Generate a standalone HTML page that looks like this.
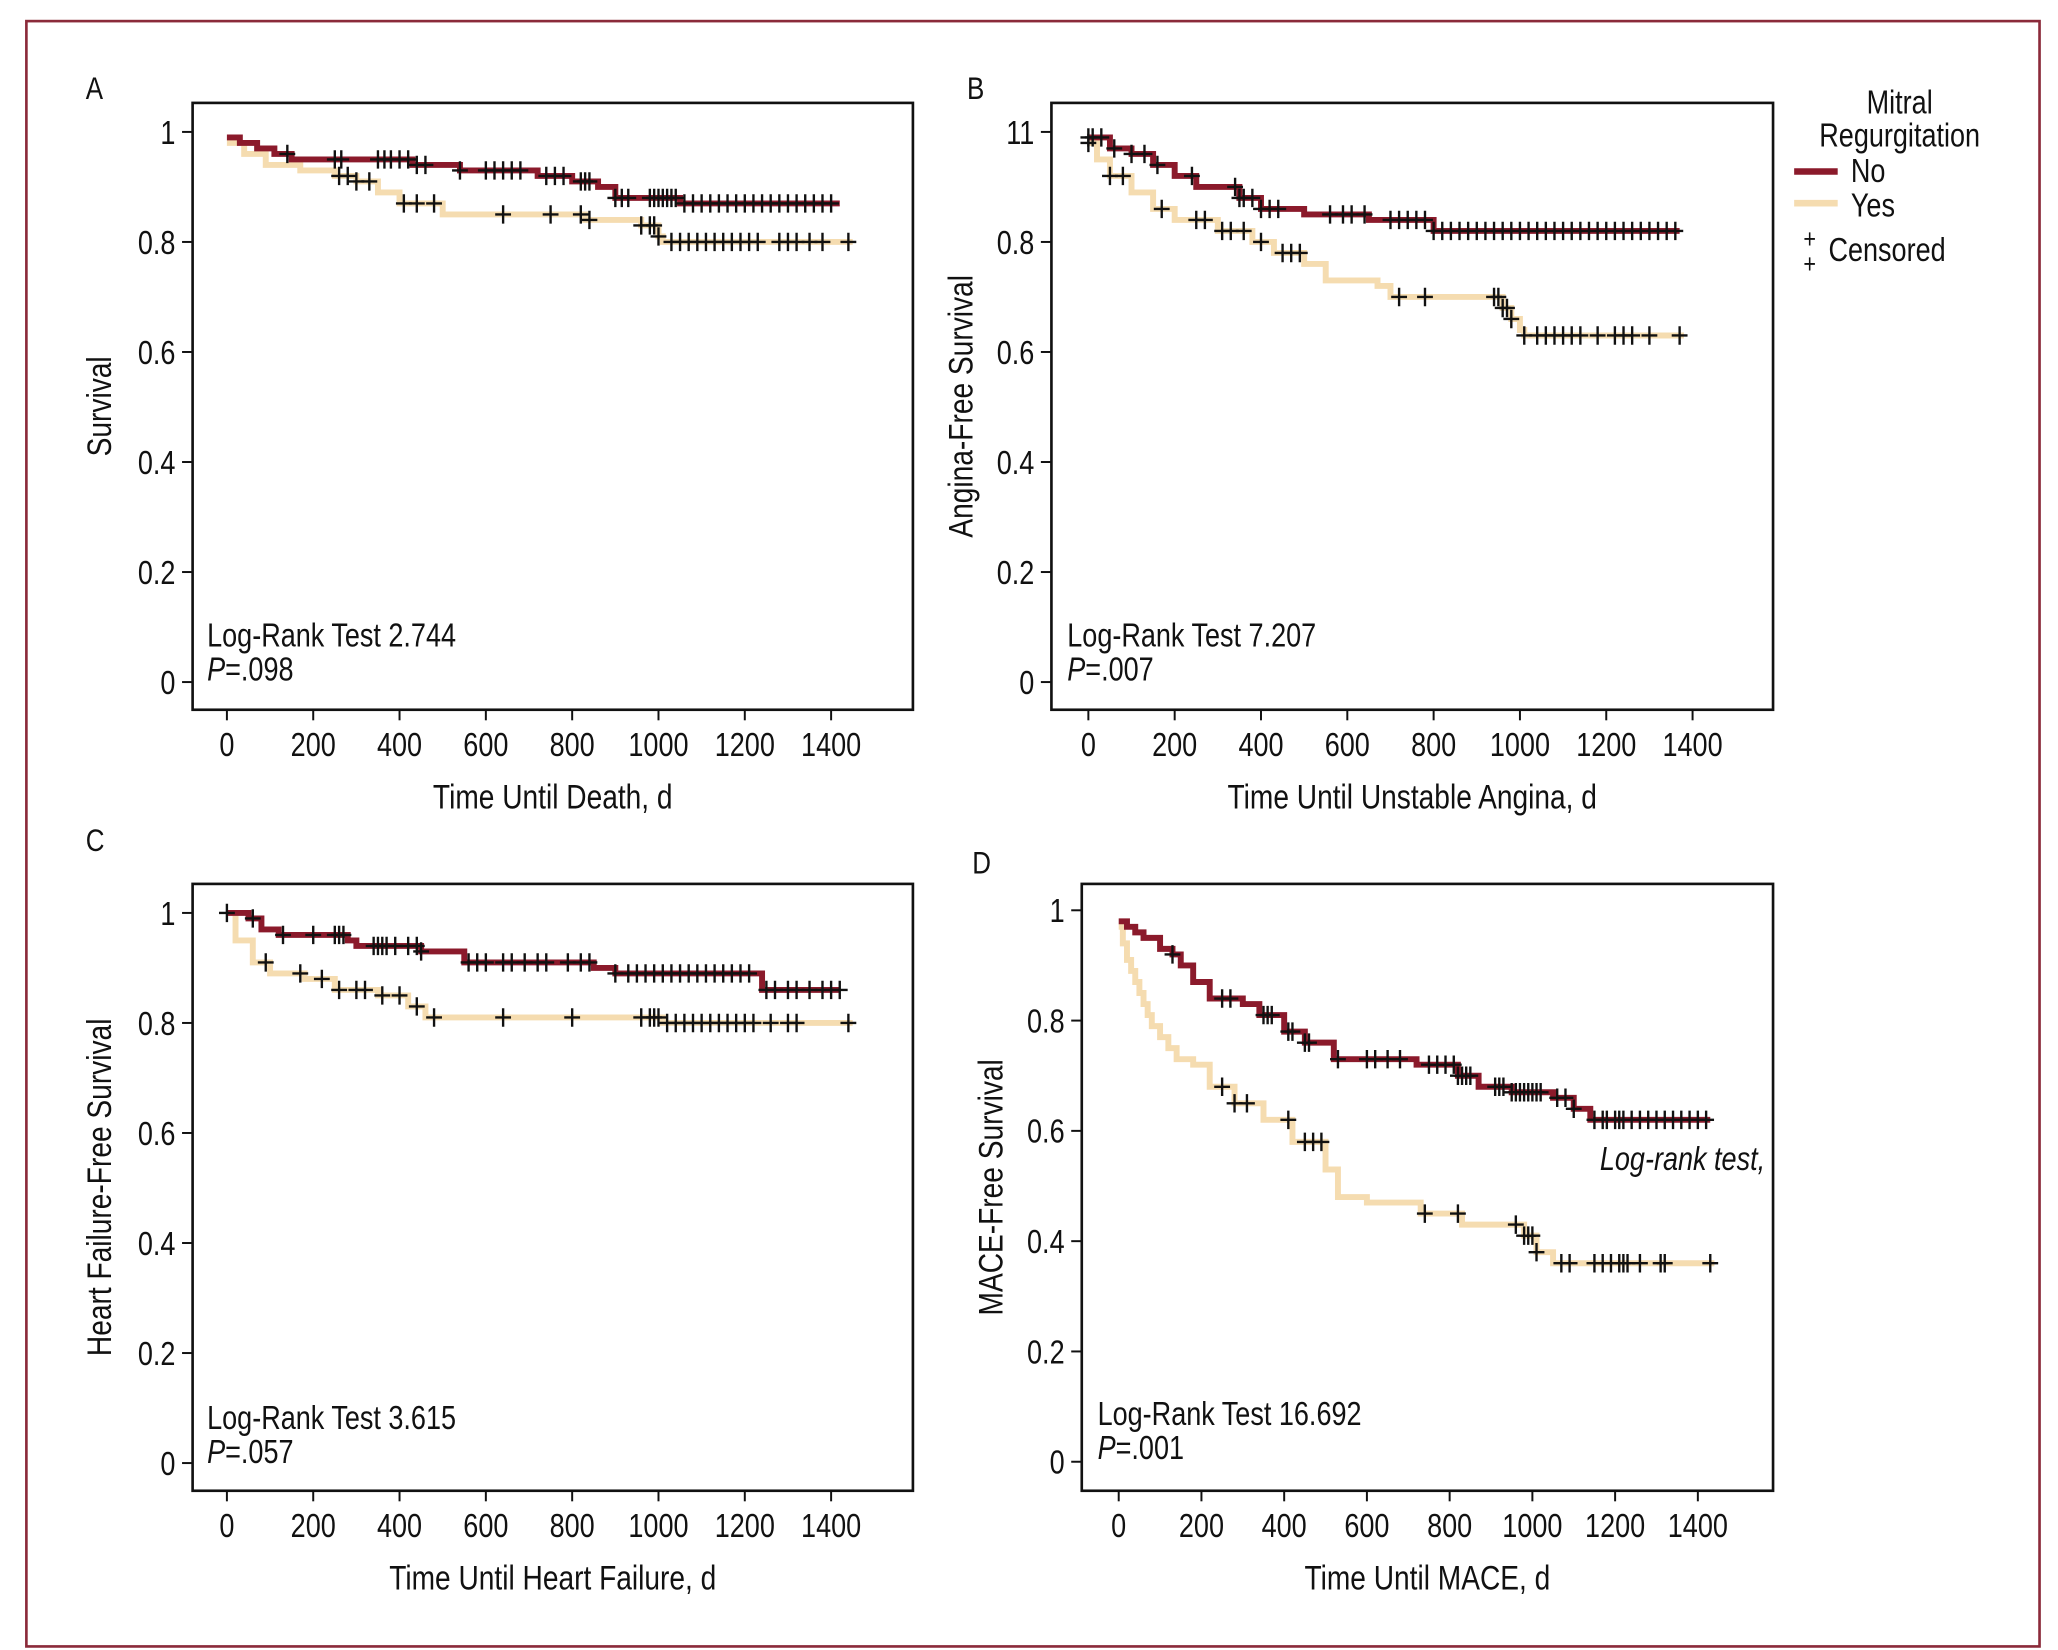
<!DOCTYPE html>
<html><head><meta charset="utf-8"><style>
html,body{margin:0;padding:0;background:#fff}
svg{display:block}
text{font-family:"Liberation Sans Narrow","Liberation Sans",sans-serif;fill:#111}
</style></head><body>
<svg id="fig" width="2058" height="1650" viewBox="0 0 1560 1250.7" preserveAspectRatio="none" xmlns="http://www.w3.org/2000/svg">
<rect x="20" y="16" width="1526" height="1232" fill="none" stroke="#8b2a3a" stroke-width="2"/>
<g id="legend">
<text x="1440" y="86" font-size="25" text-anchor="middle">Mitral</text>
<text x="1440" y="111" font-size="25" text-anchor="middle">Regurgitation</text>
<line x1="1360" y1="130" x2="1393" y2="130" stroke="#8b1a2b" stroke-width="5"/>
<text x="1403" y="138" font-size="25">No</text>
<line x1="1360" y1="154" x2="1393" y2="154" stroke="#f5dcb0" stroke-width="5"/>
<text x="1403" y="164" font-size="25">Yes</text>
<text x="1367" y="188" font-size="20">+</text>
<text x="1367" y="207" font-size="20">+</text>
<text x="1386" y="198" font-size="25">Censored</text>
</g>
</svg>
<script>
// ---- data ----
const xTicks=[0,200,400,600,800,1000,1200,1400];
const yTicks=[0,0.2,0.4,0.6,0.8,1];
const aNoT=[0,30,70,110,150,430,540,720,800,860,900,1050,1420];
const aNoS=[0.99,0.98,0.97,0.96,0.95,0.94,0.93,0.92,0.91,0.90,0.88,0.87,0.87];
const aNoC=[140,250,265,350,365,380,400,420,440,460,540,600,620,640,660,680,740,760,780,820,830,840,900,915,930,980,990,1000,1010,1020,1030,1040,1060,1080,1100,1120,1140,1160,1180,1200,1220,1240,1260,1280,1300,1320,1340,1360,1380,1400];
const aYesT=[0,40,90,170,250,300,350,400,500,830,960,1000,1010,1450];
const aYesS=[0.98,0.96,0.94,0.93,0.92,0.91,0.89,0.87,0.85,0.84,0.83,0.81,0.80,0.80];
const aYesC=[260,280,300,330,410,440,480,640,750,820,840,960,980,990,1000,1030,1050,1070,1090,1110,1130,1150,1170,1190,1210,1230,1280,1300,1320,1350,1380,1440];
const bNoT=[0,50,100,150,200,250,350,400,500,650,800,1370];
const bNoS=[0.99,0.97,0.96,0.94,0.92,0.90,0.88,0.86,0.85,0.84,0.82,0.82];
const bNoC=[0,10,30,60,100,130,160,240,340,350,360,380,400,420,440,560,590,610,640,700,720,740,760,780,800,820,840,860,880,900,920,940,960,980,1000,1020,1040,1060,1080,1100,1120,1140,1160,1180,1200,1220,1240,1260,1280,1300,1320,1340,1360];
const bYesT=[0,20,50,100,150,200,300,380,430,500,550,670,700,960,980,1000,1010,1380];
const bYesS=[0.98,0.95,0.92,0.89,0.86,0.84,0.82,0.80,0.78,0.76,0.73,0.72,0.70,0.68,0.66,0.64,0.63,0.63];
const bYesC=[0,50,80,170,250,270,310,330,360,400,450,470,490,720,780,940,950,960,970,980,1010,1040,1060,1080,1100,1120,1140,1180,1220,1240,1260,1300,1370];
const cNoT=[0,50,80,120,280,300,450,550,850,900,1230,1240,1420];
const cNoS=[1.0,0.99,0.97,0.96,0.95,0.94,0.93,0.91,0.90,0.89,0.89,0.86,0.86];
const cNoC=[0,60,130,200,250,260,270,340,350,360,370,390,420,440,450,560,580,600,640,660,690,720,740,790,820,840,900,930,950,970,990,1010,1030,1050,1070,1090,1110,1130,1150,1170,1190,1210,1250,1270,1300,1320,1350,1380,1400,1420];
const cYesT=[0,20,60,100,180,250,350,420,460,1000,1010,1450];
const cYesS=[1.0,0.95,0.91,0.89,0.88,0.86,0.85,0.83,0.81,0.81,0.80,0.80];
const cYesC=[90,170,220,260,300,320,360,400,440,480,640,800,960,980,990,1000,1020,1040,1060,1080,1100,1120,1140,1160,1180,1200,1220,1260,1300,1320,1440];
const dNoT=[0,20,40,60,100,130,150,180,220,300,340,400,450,520,720,820,870,950,1050,1100,1140,1430];
const dNoS=[0.98,0.97,0.96,0.95,0.93,0.92,0.90,0.87,0.84,0.83,0.81,0.78,0.76,0.73,0.72,0.70,0.68,0.67,0.66,0.64,0.62,0.62];
const dNoC=[130,250,270,350,360,370,410,420,450,460,530,600,620,650,680,750,770,790,810,820,830,840,850,910,920,930,950,960,970,980,990,1000,1010,1020,1060,1080,1100,1150,1170,1180,1200,1210,1220,1240,1260,1280,1300,1320,1340,1360,1380,1400,1420];
const dYesT=[0,10,20,30,40,50,60,70,80,100,120,140,180,220,280,350,420,500,530,600,730,830,980,1010,1050,1440];
const dYesS=[0.97,0.94,0.91,0.89,0.87,0.85,0.83,0.81,0.79,0.77,0.75,0.73,0.72,0.68,0.65,0.62,0.58,0.53,0.48,0.47,0.45,0.43,0.41,0.38,0.36,0.36];
const dYesC=[250,280,310,410,450,470,490,740,820,960,980,990,1000,1010,1070,1090,1150,1170,1190,1210,1220,1230,1260,1310,1320,1430];

const panels=[
 {id:'a',letter:'A',lx:65,ly:75,box:[146,78,692,538],x0:172,x1400:630,y1:100,y0:517,ytitle:'Survival',xtitle:'Time Until Death, d',ytl:'1',stat:['Log-Rank Test  2.744','.098'],sx:157,sy:490,no:[aNoT,aNoS,aNoC],yes:[aYesT,aYesS,aYesC]},
 {id:'b',letter:'B',lx:733,ly:75,box:[797,78,1344,538],x0:825,x1400:1283,y1:100,y0:517,ytitle:'Angina-Free Survival',xtitle:'Time Until Unstable Angina, d',ytl:'11',stat:['Log-Rank Test 7.207','.007'],sx:809,sy:490,no:[bNoT,bNoS,bNoC],yes:[bYesT,bYesS,bYesC]},
 {id:'c',letter:'C',lx:65,ly:645,box:[146,670,692,1130],x0:172,x1400:630,y1:692,y0:1109,ytitle:'Heart Failure-Free Survival',xtitle:'Time Until Heart Failure, d',ytl:'1',stat:['Log-Rank Test 3.615','.057'],sx:157,sy:1083,no:[cNoT,cNoS,cNoC],yes:[cYesT,cYesS,cYesC]},
 {id:'d',letter:'D',lx:737,ly:662,box:[820,670,1344,1130],x0:848,x1400:1287,y1:690,y0:1108,ytitle:'MACE-Free Survival',xtitle:'Time Until MACE, d',ytl:'1',stat:['Log-Rank Test 16.692','.001'],sx:832,sy:1080,no:[dNoT,dNoS,dNoC],yes:[dYesT,dYesS,dYesC]}
];
const NS='http://www.w3.org/2000/svg';
const svg=document.getElementById('fig');
function mk(tag,attrs,parent){const e=document.createElementNS(NS,tag);for(const k in attrs)e.setAttribute(k,attrs[k]);parent.appendChild(e);return e;}
function stepVal(T,S,t){let v=S[0];for(let i=0;i<T.length;i++){if(T[i]<=t)v=S[i];}return v;}
panels.forEach(p=>{
 const g=mk('g',{},svg);
 
 
 const X=t=>p.x0+(p.x1400-p.x0)*t/1400;
 const Y=s=>p.y0+(p.y1-p.y0)*s;
 const [bx0,by0,bx1,by1]=p.box;
 const lt=mk('text',{x:p.lx,y:p.ly,'font-size':24},g);lt.textContent=p.letter;
 
 
 const box=mk('rect',{x:bx0,y:by0,width:bx1-bx0,height:by1-by0,fill:'none',stroke:'#111','stroke-width':2},g);
 
 
 xTicks.forEach(t=>{
  mk('line',{x1:X(t),y1:by1,x2:X(t),y2:by1+8,stroke:'#111','stroke-width':1.5},g);
  const tx=mk('text',{x:X(t),y:by1+35,'font-size':25,'text-anchor':'middle'},g);tx.textContent=t;
  
  
 });
 yTicks.forEach(s=>{
  mk('line',{x1:bx0-8,y1:Y(s),x2:bx0,y2:Y(s),stroke:'#111','stroke-width':1.5},g);
  const tx=mk('text',{x:bx0-13,y:Y(s)+9,'font-size':25,'text-anchor':'end'},g);tx.textContent=(s===1?p.ytl:(s===0?'0':String(s)));
  
  
 });
 const xt=mk('text',{x:(bx0+bx1)/2,y:by1+75,'font-size':26,'text-anchor':'middle'},g);xt.textContent=p.xtitle;
 
 
 const yx=p.id==='b'||p.id==='d'?bx0-60:84;
 const yt=mk('text',{x:yx,y:(by0+by1)/2,'font-size':26,'text-anchor':'middle','data-rot':'1'},g);yt.textContent=p.ytitle;
 
 
 const s1=mk('text',{x:p.sx,y:p.sy,'font-size':25},g);s1.textContent=p.stat[0];
 
 
 const s2=mk('text',{x:p.sx,y:p.sy+26,'font-size':25},g);
 
 
 const it=mk('tspan',{'font-style':'italic'},s2);it.textContent='P';
 const rt=mk('tspan',{},s2);rt.textContent='='+p.stat[1];
 [['yes','#f5dcb0',p.yes],['no','#8b1a2b',p.no]].forEach(([nm,col,[T,S,C]])=>{
  let d='M'+X(T[0])+' '+Y(S[0]);
  for(let i=1;i<T.length;i++){d+=' H'+X(T[i])+' V'+Y(S[i]);}
  const path=mk('path',{d:d,fill:'none',stroke:col,'stroke-width':4.5},g);
  
  
 });
 [['yes',p.yes],['no',p.no]].forEach(([nm,[T,S,C]])=>{
  C.forEach(t=>{
   const cx=X(t),cy=Y(stepVal(T,S,t));
   const m=mk('path',{d:`M${cx-6} ${cy}H${cx+6}M${cx} ${cy-7}V${cy+7}`,stroke:'#111','stroke-width':1.8,fill:'none'},g);
   
   
  });
 });
 if(p.id==='d'){
  const lr=mk('text',{x:1338,y:887,'font-size':25,'font-style':'italic','text-anchor':'end'},g);lr.textContent='Log-rank test,';
  
  
 }
});
// condense text horizontally to mimic narrow font
const SX=0.82;
svg.querySelectorAll('text').forEach(t=>{
 const x=+t.getAttribute('x'),y=+t.getAttribute('y');
 if(t.getAttribute('data-rot')){
  t.setAttribute('transform',`rotate(-90 ${x} ${y}) translate(${x} ${y}) scale(${SX} 1) translate(${-x} ${-y})`);
 }else{
  t.setAttribute('transform',`translate(${x} 0) scale(${SX} 1) translate(${-x} 0)`);
 }
});
</script>
</body></html>
